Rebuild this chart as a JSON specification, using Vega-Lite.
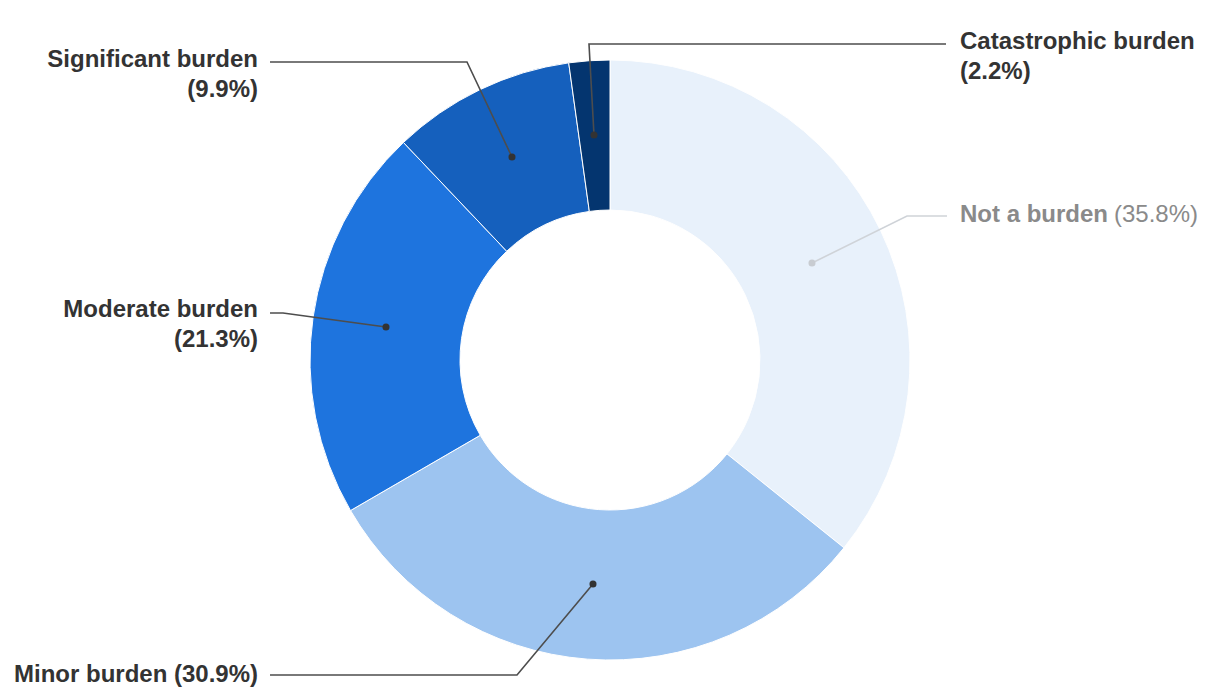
{
  "$schema": "https://vega.github.io/schema/vega-lite/v6.json",
  "width": 1220,
  "height": 700,
  "padding": 0,
  "autosize": {"type": "none"},
  "background": "#ffffff",
  "config": {"view": {"stroke": null}},
  "datasets": {
    "slices": [
      {"label": "Not a burden", "pct": 35.8, "order": 1},
      {"label": "Minor burden", "pct": 30.9, "order": 2},
      {"label": "Moderate burden", "pct": 21.3, "order": 3},
      {"label": "Significant burden", "pct": 9.9, "order": 4},
      {"label": "Catastrophic burden", "pct": 2.2, "order": 5}
    ],
    "leaders": [
      {"label": "Catastrophic burden", "step": 0, "u": -0.0533, "v": 0.75},
      {"label": "Catastrophic burden", "step": 1, "u": -0.07, "v": 1.0533},
      {"label": "Catastrophic burden", "step": 2, "u": 1.12, "v": 1.0533},
      {"label": "Not a burden", "step": 0, "u": 0.6733, "v": 0.3233},
      {"label": "Not a burden", "step": 1, "u": 0.99, "v": 0.48},
      {"label": "Not a burden", "step": 2, "u": 1.1233, "v": 0.48},
      {"label": "Significant burden", "step": 0, "u": -0.3267, "v": 0.6767},
      {"label": "Significant burden", "step": 1, "u": -0.4767, "v": 0.9933},
      {"label": "Significant burden", "step": 2, "u": -1.1333, "v": 0.9933},
      {"label": "Moderate burden", "step": 0, "u": -0.7467, "v": 0.11},
      {"label": "Moderate burden", "step": 1, "u": -1.09, "v": 0.1567},
      {"label": "Moderate burden", "step": 2, "u": -1.1333, "v": 0.1567},
      {"label": "Minor burden", "step": 0, "u": -0.0567, "v": -0.7467},
      {"label": "Minor burden", "step": 1, "u": -0.31, "v": -1.05},
      {"label": "Minor burden", "step": 2, "u": -1.1333, "v": -1.05}
    ],
    "labels": [
      {"label": "Catastrophic burden", "part": "name", "side": "right", "text": "Catastrophic burden", "u": 1.1667, "v": 1.06},
      {"label": "Catastrophic burden", "part": "pct", "side": "right", "text": "(2.2%)", "u": 1.1667, "v": 0.96},
      {"label": "Not a burden", "part": "name", "side": "right", "text": "Not a burden", "u": 1.1667, "v": 0.4833},
      {"label": "Not a burden", "part": "pct", "side": "right", "text": "(35.8%)", "u": 1.68, "v": 0.4833},
      {"label": "Significant burden", "part": "name", "side": "left", "text": "Significant burden", "u": -1.1733, "v": 1.0},
      {"label": "Significant burden", "part": "pct", "side": "left", "text": "(9.9%)", "u": -1.1733, "v": 0.9},
      {"label": "Moderate burden", "part": "name", "side": "left", "text": "Moderate burden", "u": -1.1733, "v": 0.1667},
      {"label": "Moderate burden", "part": "pct", "side": "left", "text": "(21.3%)", "u": -1.1733, "v": 0.0667},
      {"label": "Minor burden", "part": "name", "side": "left", "text": "Minor burden (30.9%)", "u": -1.1733, "v": -1.05}
    ]
  },
  "layer": [
    {
      "data": {"name": "slices"},
      "mark": {"type": "arc", "outerRadius": 300, "innerRadius": 150, "stroke": "#ffffff", "strokeWidth": 1},
      "encoding": {
        "theta": {"field": "pct", "type": "quantitative", "stack": true},
        "order": {"field": "order", "type": "quantitative"},
        "color": {
          "field": "label", "type": "nominal", "legend": null,
          "scale": {
            "domain": ["Not a burden", "Minor burden", "Moderate burden", "Significant burden", "Catastrophic burden"],
            "range": ["#e8f1fb", "#9dc4f0", "#1e74de", "#1560bd", "#04356f"]
          }
        },
        "x": {"datum": 0, "type": "quantitative", "axis": null, "scale": {"domain": [-2.03333, 2.03333], "nice": false, "zero": false}},
        "y": {"datum": 0, "type": "quantitative", "axis": null, "scale": {"domain": [-1.13333, 1.2], "nice": false, "zero": false}}
      }
    },
    {
      "data": {"name": "leaders"},
      "mark": {"type": "line", "strokeWidth": 1.6},
      "encoding": {
        "x": {"field": "u", "type": "quantitative", "axis": null, "scale": {"domain": [-2.03333, 2.03333], "nice": false, "zero": false}},
        "y": {"field": "v", "type": "quantitative", "axis": null, "scale": {"domain": [-1.13333, 1.2], "nice": false, "zero": false}},
        "detail": {"field": "label", "type": "nominal"},
        "order": {"field": "step", "type": "quantitative"},
        "stroke": {"condition": {"test": "datum.label === 'Not a burden'", "value": "#cfd3d8"}, "value": "#4d4d4d"}
      }
    },
    {
      "data": {"name": "leaders"},
      "transform": [{"filter": "datum.step === 0"}],
      "mark": {"type": "circle", "size": 50, "opacity": 1},
      "encoding": {
        "x": {"field": "u", "type": "quantitative"},
        "y": {"field": "v", "type": "quantitative"},
        "fill": {"condition": {"test": "datum.label === 'Not a burden'", "value": "#c8ccd1"}, "value": "#333333"}
      }
    },
    {
      "data": {"name": "labels"},
      "transform": [{"filter": "datum.side === 'left'"}],
      "mark": {"type": "text", "align": "right", "baseline": "middle", "font": "Liberation Sans", "fontSize": 24, "fontWeight": "bold", "color": "#333333"},
      "encoding": {
        "x": {"field": "u", "type": "quantitative"},
        "y": {"field": "v", "type": "quantitative"},
        "text": {"field": "text", "type": "nominal"}
      }
    },
    {
      "data": {"name": "labels"},
      "transform": [{"filter": "datum.label === 'Catastrophic burden'"}],
      "mark": {"type": "text", "align": "left", "baseline": "middle", "font": "Liberation Sans", "fontSize": 24, "fontWeight": "bold", "color": "#333333"},
      "encoding": {
        "x": {"field": "u", "type": "quantitative"},
        "y": {"field": "v", "type": "quantitative"},
        "text": {"field": "text", "type": "nominal"}
      }
    },
    {
      "data": {"name": "labels"},
      "transform": [{"filter": "datum.label === 'Not a burden' && datum.part === 'name'"}],
      "mark": {"type": "text", "align": "left", "baseline": "middle", "font": "Liberation Sans", "fontSize": 24, "fontWeight": "bold", "color": "#8a8a8a"},
      "encoding": {
        "x": {"field": "u", "type": "quantitative"},
        "y": {"field": "v", "type": "quantitative"},
        "text": {"field": "text", "type": "nominal"}
      }
    },
    {
      "data": {"name": "labels"},
      "transform": [{"filter": "datum.label === 'Not a burden' && datum.part === 'pct'"}],
      "mark": {"type": "text", "align": "left", "baseline": "middle", "font": "Liberation Sans", "fontSize": 24, "fontWeight": "normal", "color": "#8a8a8a"},
      "encoding": {
        "x": {"field": "u", "type": "quantitative"},
        "y": {"field": "v", "type": "quantitative"},
        "text": {"field": "text", "type": "nominal"}
      }
    }
  ]
}
